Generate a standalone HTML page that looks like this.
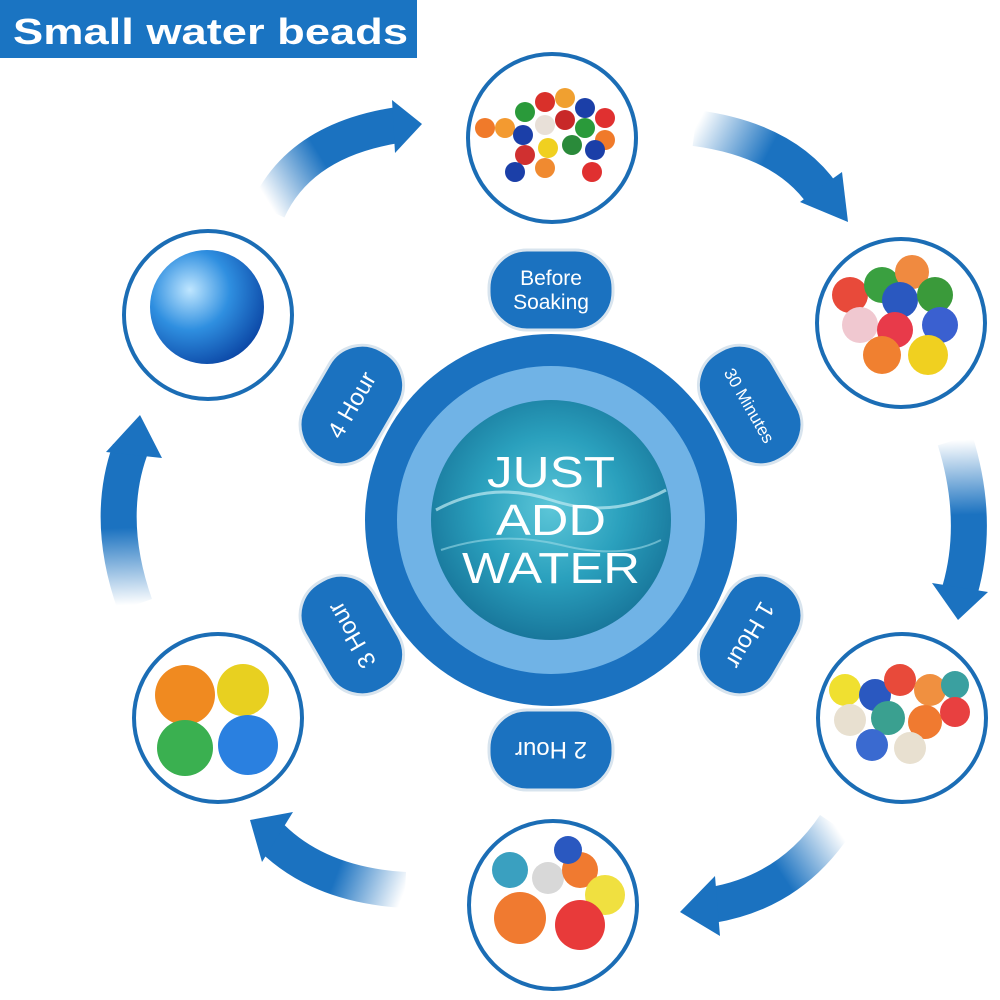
<!DOCTYPE html>
<html><head><meta charset="utf-8"><style>
html,body{margin:0;padding:0;background:#fff;}
svg{display:block;}
</style></head><body>
<svg width="1000" height="1000" viewBox="0 0 1000 1000" xmlns="http://www.w3.org/2000/svg">
<defs>
<radialGradient id="water" cx="50%" cy="45%" r="60%">
<stop offset="0" stop-color="#5cc6d8"/><stop offset="0.5" stop-color="#2aa0bd"/><stop offset="1" stop-color="#156f95"/>
</radialGradient>
<radialGradient id="bl" cx="35%" cy="35%" r="70%"><stop offset="0" stop-color="#bfe6ff"/><stop offset="0.5" stop-color="#2f8fe0"/><stop offset="1" stop-color="#0d4aa8"/></radialGradient>
<linearGradient id="g1" gradientUnits="userSpaceOnUse" x1="270" y1="205" x2="400" y2="125"><stop offset="0" stop-color="#1b72c0" stop-opacity="0"/><stop offset="0.45" stop-color="#1b72c0"/></linearGradient>
<linearGradient id="g2" gradientUnits="userSpaceOnUse" x1="695" y1="128" x2="830" y2="200"><stop offset="0" stop-color="#1b72c0" stop-opacity="0"/><stop offset="0.5" stop-color="#1b72c0"/></linearGradient>
<linearGradient id="g3" gradientUnits="userSpaceOnUse" x1="955" y1="440" x2="960" y2="590"><stop offset="0" stop-color="#1b72c0" stop-opacity="0"/><stop offset="0.5" stop-color="#1b72c0"/></linearGradient>
<linearGradient id="g4" gradientUnits="userSpaceOnUse" x1="835" y1="825" x2="715" y2="905"><stop offset="0" stop-color="#1b72c0" stop-opacity="0"/><stop offset="0.5" stop-color="#1b72c0"/></linearGradient>
<linearGradient id="g5" gradientUnits="userSpaceOnUse" x1="405" y1="890" x2="275" y2="840"><stop offset="0" stop-color="#1b72c0" stop-opacity="0"/><stop offset="0.5" stop-color="#1b72c0"/></linearGradient>
<linearGradient id="g6" gradientUnits="userSpaceOnUse" x1="135" y1="605" x2="130" y2="450"><stop offset="0" stop-color="#1b72c0" stop-opacity="0"/><stop offset="0.5" stop-color="#1b72c0"/></linearGradient>
</defs>

<!-- title -->
<rect x="0" y="0" width="417" height="58" fill="#1a74c2"/>
<text x="13" y="44" font-family="Liberation Sans, sans-serif" font-weight="bold" font-size="36" fill="#fff" textLength="395" lengthAdjust="spacingAndGlyphs">Small water beads</text>

<!-- arrows -->
<g fill="none" stroke-width="36">
<path d="M268,210 Q300,140 398,125" stroke="url(#g1)"/>
<path d="M695,128 Q785,140 823,195" stroke="url(#g2)"/>
<path d="M955,440 Q980,520 960,590" stroke="url(#g3)"/>
<path d="M835,825 Q790,892 712,905" stroke="url(#g4)"/>
<path d="M405,890 Q320,885 272,838" stroke="url(#g5)"/>
<path d="M135,605 Q105,520 130,450" stroke="url(#g6)"/>
</g>
<g fill="#1b72c0">
<polygon points="392,100 422,124 395,153"/>
<polygon points="800,202 848,222 842,172"/>
<polygon points="932,583 958,620 988,592"/>
<polygon points="715,876 680,912 720,936"/>
<polygon points="293,812 250,820 262,862"/>
<polygon points="106,452 140,415 162,458"/>
</g>

<!-- outer circles -->
<g fill="#fff" stroke="#1b6db5" stroke-width="4">
<circle cx="552" cy="138" r="84"/>
<circle cx="901" cy="323" r="84"/>
<circle cx="902" cy="718" r="84"/>
<circle cx="553" cy="905" r="84"/>
<circle cx="218" cy="718" r="84"/>
<circle cx="208" cy="315" r="84"/>
</g>
<!-- bead contents -->
<g>
<!-- top small beads -->
<circle cx="485" cy="128" r="10" fill="#f07a2a"/><circle cx="505" cy="128" r="10" fill="#f39a30"/>
<circle cx="525" cy="112" r="10" fill="#2a9a3a"/><circle cx="545" cy="102" r="10" fill="#d9302a"/>
<circle cx="565" cy="98" r="10" fill="#f0a030"/><circle cx="585" cy="108" r="10" fill="#1b3fa8"/>
<circle cx="605" cy="118" r="10" fill="#e03030"/><circle cx="523" cy="135" r="10" fill="#1b3fa8"/>
<circle cx="545" cy="125" r="10" fill="#e8e0d8"/><circle cx="565" cy="120" r="10" fill="#c82828"/>
<circle cx="585" cy="128" r="10" fill="#2a9a3a"/><circle cx="605" cy="140" r="10" fill="#f07a2a"/>
<circle cx="525" cy="155" r="10" fill="#d03030"/><circle cx="548" cy="148" r="10" fill="#f0d020"/>
<circle cx="572" cy="145" r="10" fill="#2a8a3a"/><circle cx="595" cy="150" r="10" fill="#1b3fa8"/>
<circle cx="545" cy="168" r="10" fill="#f08a30"/><circle cx="515" cy="172" r="10" fill="#1b3fa8"/>
<circle cx="592" cy="172" r="10" fill="#e03030"/>
<!-- right top -->
<circle cx="850" cy="295" r="18" fill="#e84a3a"/><circle cx="882" cy="285" r="18" fill="#3aa040"/>
<circle cx="912" cy="272" r="17" fill="#f08a40"/><circle cx="900" cy="300" r="18" fill="#2a58c0"/>
<circle cx="935" cy="295" r="18" fill="#3a9a3a"/><circle cx="860" cy="325" r="18" fill="#f0c8d0"/>
<circle cx="895" cy="330" r="18" fill="#e83a4a"/><circle cx="940" cy="325" r="18" fill="#3a60d0"/>
<circle cx="882" cy="355" r="19" fill="#f08030"/><circle cx="928" cy="355" r="20" fill="#f0d020"/>
<!-- right bottom -->
<circle cx="845" cy="690" r="16" fill="#f0e030"/><circle cx="875" cy="695" r="16" fill="#2a58c0"/>
<circle cx="900" cy="680" r="16" fill="#e84a3a"/><circle cx="930" cy="690" r="16" fill="#f09040"/>
<circle cx="955" cy="685" r="14" fill="#3aa0a0"/><circle cx="850" cy="720" r="16" fill="#e8e0d0"/>
<circle cx="888" cy="718" r="17" fill="#3aa090"/><circle cx="925" cy="722" r="17" fill="#f07a30"/>
<circle cx="955" cy="712" r="15" fill="#e84040"/><circle cx="872" cy="745" r="16" fill="#3a6ad0"/>
<circle cx="910" cy="748" r="16" fill="#e8e0d0"/>
<!-- bottom -->
<circle cx="510" cy="870" r="18" fill="#3aa0c0"/><circle cx="548" cy="878" r="16" fill="#d8d8d8"/>
<circle cx="580" cy="870" r="18" fill="#f07a30"/><circle cx="568" cy="850" r="14" fill="#2a58c0"/>
<circle cx="605" cy="895" r="20" fill="#f0e040"/><circle cx="520" cy="918" r="26" fill="#f07a30"/>
<circle cx="580" cy="925" r="25" fill="#e83a3a"/>
<!-- left bottom -->
<circle cx="185" cy="695" r="30" fill="#f08a20"/><circle cx="243" cy="690" r="26" fill="#e8d020"/>
<circle cx="185" cy="748" r="28" fill="#3ab050"/><circle cx="248" cy="745" r="30" fill="#2a80e0"/>
<!-- left top -->
<circle cx="207" cy="307" r="57" fill="url(#bl)"/>
</g>

<!-- center -->
<g transform="translate(551,520)">
<g id="tabs" fill="#1b72c0" stroke="#d8e4ee" stroke-width="3">
<g><rect x="-62" y="-270" width="124" height="80" rx="38"/></g>
<g transform="rotate(60)"><rect x="-62" y="-270" width="124" height="80" rx="38"/></g>
<g transform="rotate(120)"><rect x="-62" y="-270" width="124" height="80" rx="38"/></g>
<g transform="rotate(180)"><rect x="-62" y="-270" width="124" height="80" rx="38"/></g>
<g transform="rotate(240)"><rect x="-62" y="-270" width="124" height="80" rx="38"/></g>
<g transform="rotate(300)"><rect x="-62" y="-270" width="124" height="80" rx="38"/></g>
</g>
<circle r="186" fill="#1b72c0"/>
<circle r="154" fill="#70b3e6"/>
<circle r="120" fill="url(#water)"/>
<path d="M-115,-10 Q-60,-40 0,-20 T115,-30" stroke="#bfe9f2" stroke-width="3" fill="none" opacity="0.7"/>
<path d="M-110,30 Q-50,10 10,25 T110,20" stroke="#9ad8e6" stroke-width="2" fill="none" opacity="0.6"/>
<g font-family="Liberation Sans, sans-serif" fill="#fff" text-anchor="middle">
<text x="0" y="-33" font-size="44" textLength="128" lengthAdjust="spacingAndGlyphs">JUST</text>
<text x="0" y="15" font-size="44" textLength="110" lengthAdjust="spacingAndGlyphs">ADD</text>
<text x="0" y="63" font-size="44" textLength="178" lengthAdjust="spacingAndGlyphs">WATER</text>
</g>
<g font-family="Liberation Sans, sans-serif" fill="#fff" text-anchor="middle" font-size="21">
<text x="0" y="-235">Before</text><text x="0" y="-211">Soaking</text>
<text transform="rotate(60)" x="0" y="-223" font-size="17">30 Minutes</text>
<text transform="rotate(120)" x="0" y="-222" font-size="24">1 Hour</text>
<text transform="rotate(180)" x="0" y="-222" font-size="24">2 Hour</text>
<text transform="rotate(240)" x="0" y="-222" font-size="24">3 Hour</text>
<text transform="rotate(300)" x="0" y="-222" font-size="24">4 Hour</text>
</g>
</g>
</svg>
</body></html>
